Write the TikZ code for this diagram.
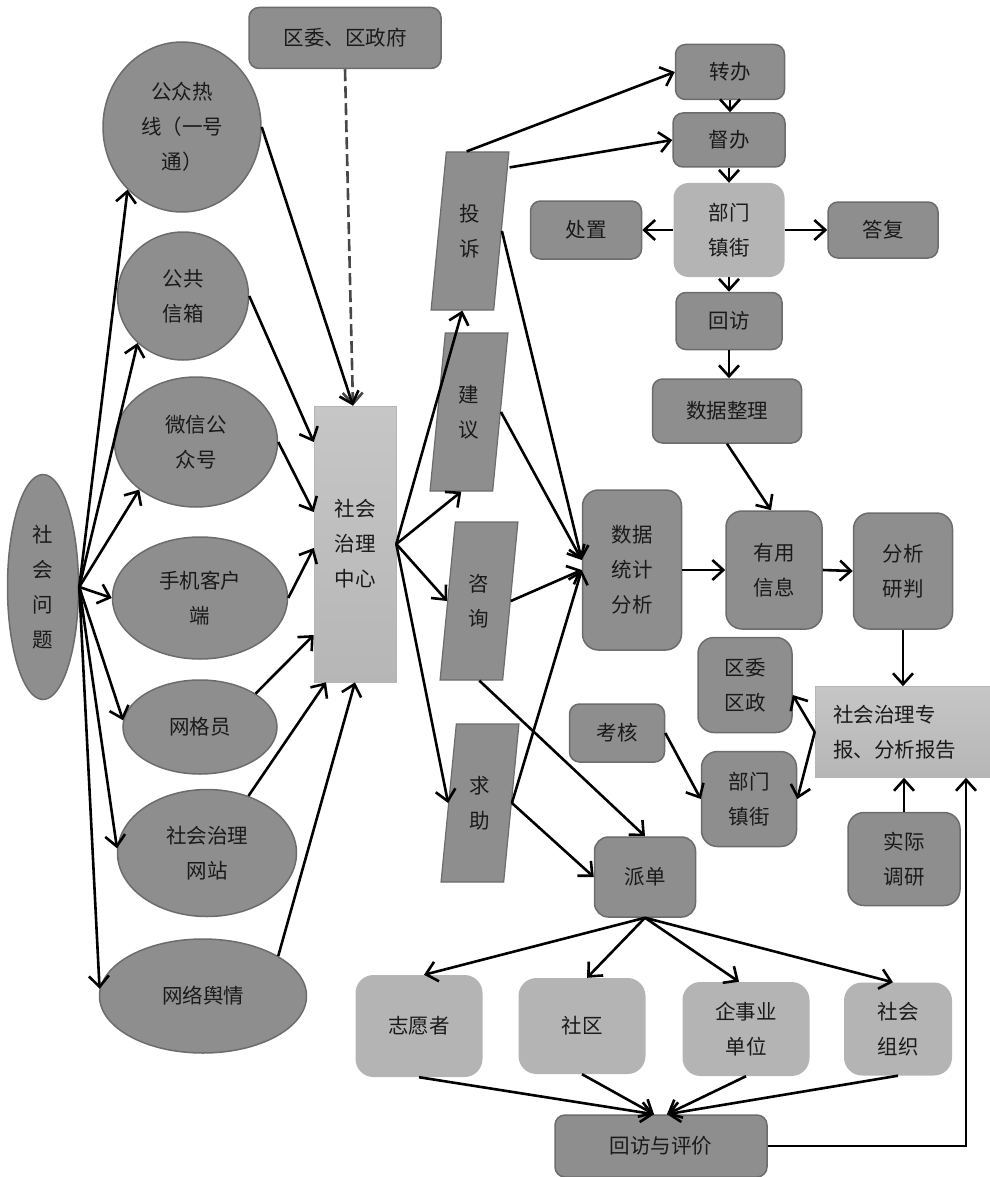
\documentclass[tikz,border=0pt]{standalone}
\usepackage{fontspec}
\setmainfont{Noto Sans CJK SC}
\usetikzlibrary{shapes.geometric,arrows.meta}
\definecolor{boxdark}{HTML}{8E8E8E}
\definecolor{boxedge}{HTML}{6C6C6C}
\definecolor{boxlight}{HTML}{B4B4B4}
\definecolor{shadetop}{HTML}{C6C6C6}
\definecolor{shadebot}{HTML}{B6B6B6}
\definecolor{inktext}{HTML}{1A1A1A}
\begin{document}
\begin{tikzpicture}[x=1pt,y=-1pt,
    every node/.style={text=inktext,font=\fontsize{20.5}{35}\selectfont,align=center,inner sep=0pt},
    darkbox/.style={draw=boxedge,line width=1.5pt,fill=boxdark,rounded corners=10pt},
    lightbox/.style={fill=boxlight,rounded corners=18pt},
    oval/.style={ellipse,draw=boxedge,line width=1.5pt,fill=boxdark},
    slantbox/.style={trapezium,trapezium left angle=83,trapezium right angle=97,trapezium stretches=true,
      draw=boxedge,line width=1.2pt,fill=boxdark,minimum width=78pt,minimum height=158pt},
    shadebox/.style={top color=shadetop,bottom color=shadebot,draw=shadebot,line width=0.6pt},
    link/.style={line width=2.6pt,-{Straight Barb[length=11pt,width=20pt]}}]
        \useasboundingbox (0,0) rectangle (989,1177);

        \node [darkbox,minimum width=192pt,minimum height=61pt] (wei) at (345,38) {区委、区政府};

        \node [oval,minimum width=71pt,minimum height=225pt] (wenti) at (43,587) {社\\会\\问\\题};
        \node [oval,minimum width=158pt,minimum height=170pt] (rexian) at (182,127) {公众热\\线（一号\\通）};
        \node [oval,minimum width=131pt,minimum height=128pt] (xinxiang) at (183,296) {公共\\信箱};
        \node [oval,minimum width=163pt,minimum height=130pt] (weixin) at (196,442) {微信公\\众号};
        \node [oval,minimum width=175pt,minimum height=122pt] (shouji) at (200,598) {手机客户\\端};
        \node [oval,minimum width=154pt,minimum height=94pt] (wangge) at (200,727) {网格员};
        \node [oval,minimum width=179pt,minimum height=127pt] (wangzhan) at (207,853) {社会治理\\网站};
        \node [oval,minimum width=207pt,minimum height=114pt] (yuqing) at (203,996) {网络舆情};

        \node [shadebox,minimum width=82pt,minimum height=276pt] (zhongxin) at (355,544) {社会\\治理\\中心};

        \node [slantbox] (tousu) at (470,231) {投\\诉};
        \node [slantbox] (jianyi) at (469,412) {建\\议};
        \node [slantbox] (zixun) at (479,601) {咨\\询};
        \node [slantbox] (qiuzhu) at (480,803) {求\\助};

        \node [darkbox,minimum width=109pt,minimum height=55pt] (zhuanban) at (730,72) {转办};
        \node [darkbox,minimum width=112pt,minimum height=54pt] (duban) at (729,140) {督办};
        \node [lightbox,rounded corners=15pt,minimum width=111pt,minimum height=94pt] (bumen) at (729,230) {部门\\镇街};
        \node [darkbox,minimum width=111pt,minimum height=58pt] (chuzhi) at (586,230) {处置};
        \node [darkbox,minimum width=110pt,minimum height=56pt] (dafu) at (883,230) {答复};
        \node [darkbox,minimum width=106pt,minimum height=57pt] (huifang) at (729,321) {回访};
        \node [darkbox,minimum width=149pt,minimum height=64pt] (zhengli) at (727,411) {数据整理};

        \node [darkbox,rounded corners=16pt,minimum width=99pt,minimum height=160pt] (tongji) at (632,570) {数据\\统计\\分析};
        \node [darkbox,rounded corners=16pt,minimum width=96pt,minimum height=118pt] (youyong) at (774,570) {有用\\信息};
        \node [darkbox,rounded corners=16pt,minimum width=99pt,minimum height=116pt] (yanpan) at (903,571) {分析\\研判};

        \node [darkbox,rounded corners=16pt,minimum width=94pt,minimum height=95pt] (quzheng) at (745,685) {区委\\区政};
        \node [shadebox,minimum width=176pt,minimum height=91pt,text width=140pt,align=left] (zhuanbao) at (903,732) {社会治理专\\报、分析报告};
        \node [darkbox,minimum width=95pt,minimum height=58pt] (kaohe) at (617,733) {考核};
        \node [darkbox,rounded corners=16pt,minimum width=95pt,minimum height=95pt] (zhenjie) at (749,799) {部门\\镇街};
        \node [darkbox,rounded corners=16pt,minimum width=112pt,minimum height=93pt] (diaoyan) at (904,859) {实际\\调研};

        \node [darkbox,rounded corners=14pt,minimum width=101pt,minimum height=80pt] (paidan) at (645,877) {派单};
        \node [lightbox,minimum width=127pt,minimum height=102pt] (zhiyuan) at (419,1026) {志愿者};
        \node [lightbox,minimum width=127pt,minimum height=96pt] (shequ) at (582,1026) {社区};
        \node [lightbox,minimum width=127pt,minimum height=94pt] (qiye) at (746,1029) {企事业\\单位};
        \node [lightbox,minimum width=108pt,minimum height=93pt] (zuzhi) at (898,1029) {社会\\组织};
        \node [darkbox,minimum width=212pt,minimum height=62pt] (pingjia) at (661,1146) {回访与评价};

        \draw [link] (wenti.east) -- (rexian.229);
        \draw [link] (wenti.east) -- (xinxiang.226);
        \draw [link] (wenti.east) -- (weixin.220);
        \draw [link] (wenti.east) -- (shouji.west);
        \draw [link] (wenti.east) -- (wangge.175);
        \draw [link] (wenti.east) -- (wangzhan.177);
        \draw [link] (wenti.east) -- (yuqing.176);

        \draw [link,draw=black!72,dash pattern=on 12pt off 5pt] (wei.south) -- ([xshift=-2pt]zhongxin.north);
        \draw [link] (rexian.east) -- ([xshift=-2pt]zhongxin.north);
        \draw [link] (xinxiang.east) -- ([yshift=102pt]zhongxin.west);
        \draw [link] (weixin.east) -- ([yshift=32pt]zhongxin.west);
        \draw [link] (shouji.east) -- ([yshift=-4pt]zhongxin.west);
        \draw [link] (wangge.31) -- ([yshift=-91pt]zhongxin.west);
        \draw [link] (wangzhan.54) -- ([xshift=-29pt]zhongxin.south);
        \draw [link] (yuqing.28) -- (zhongxin.south);

        \draw [link] (zhongxin.east) -- (tousu.bottom side);
        \draw [link] (zhongxin.east) -- (jianyi.bottom side);
        \draw [link] (zhongxin.east) -- (zixun.left side);
        \draw [link] (zhongxin.east) -- (qiuzhu.left side);

        \draw [link] ([xshift=-11pt]tousu.top side) -- (zhuanban.west);
        \draw [link] ([yshift=-16pt]tousu.top right corner) -- (duban.west);
        \draw [link] (zhuanban.south) -- (zhuanban.south |- duban.north);
        \draw [link] (duban.south) -- (duban.south |- bumen.north);
        \draw [link] (bumen.west) -- (chuzhi.east);
        \draw [link] (bumen.east) -- (dafu.west);
        \draw [link] (bumen.south) -- (bumen.south |- huifang.north);
        \draw [link] (huifang.south) -- (huifang.south |- zhengli.north);
        \draw [link] (zhengli.south) -- ([xshift=-3pt]youyong.north);

        \draw [link] (tousu.right side) -- ([yshift=10pt]tongji.west);
        \draw [link] (jianyi.right side) -- ([yshift=10pt]tongji.west);
        \draw [link] (zixun.right side) -- (tongji.west);
        \draw [link] (qiuzhu.right side) -- (tongji.west);
        \draw [link] ([xshift=8pt]zixun.bottom side) -- (paidan.north);
        \draw [link] (qiuzhu.right side) -- (paidan.west);

        \draw [link] (tongji.east) -- (youyong.west);
        \draw [link] (youyong.east) -- (yanpan.west);
        \draw [link] (yanpan.south) -- (yanpan.south |- zhuanbao.north);
        \draw [link] (zhuanbao.west) -- ([yshift=-10pt]quzheng.east);
        \draw [link] (zhuanbao.west) -- (zhenjie.east);
        \draw [link] (kaohe.east) -- (zhenjie.west);
        \draw [link] (diaoyan.north) -- (diaoyan.north |- zhuanbao.south);

        \draw [link] (paidan.south) -- ([xshift=5pt]zhiyuan.north);
        \draw [link] (paidan.south) -- ([xshift=5pt]shequ.north);
        \draw [link] (paidan.south) -- ([xshift=-7pt]qiye.north);
        \draw [link] (paidan.south) -- ([xshift=-5pt]zuzhi.north);

        \draw [link] (zhiyuan.south) -- ([xshift=-7pt]pingjia.north);
        \draw [link] (shequ.south) -- ([xshift=-7pt]pingjia.north);
        \draw [link] (qiye.south) -- ([xshift=6pt]pingjia.north);
        \draw [link] (zuzhi.south) -- ([xshift=6pt]pingjia.north);
        \draw [link] (pingjia.east) -| ([xshift=63pt]zhuanbao.south);
      \end{tikzpicture}
\end{document}
